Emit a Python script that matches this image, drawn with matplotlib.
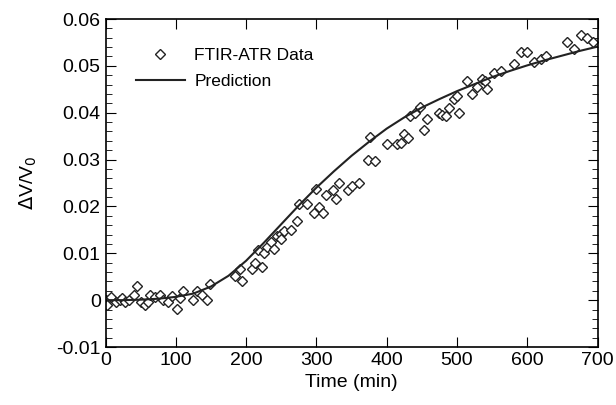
import numpy as np
import matplotlib
matplotlib.use("Agg")
import matplotlib.pyplot as plt
from matplotlib.ticker import MultipleLocator

plt.rcParams['font.family'] = ['Liberation Sans', 'DejaVu Sans']

t_data = [0, 2, 8, 15, 21, 23, 28, 34, 40, 45, 50, 56, 60, 64, 70, 77, 82, 89, 95,
          102, 106, 110, 124, 130, 138, 144, 149, 184, 191, 194, 208, 212, 217, 222,
          226, 230, 236, 240, 244, 249, 250, 254, 264, 273, 276, 287, 296, 299, 304,
          310, 314, 323, 328, 332, 345, 350, 360, 373, 377, 384, 401, 415, 420, 425,
          430, 433, 441, 447, 453, 458, 475, 479, 484, 489, 496, 500, 503, 515, 521,
          529, 535, 540, 543, 553, 563, 581, 591, 600, 609, 619, 627, 656, 666, 676,
          685, 694]
v_data = [0.0, -0.001, 0.0007, -0.0004, 0.0, 0.0005, -0.0004, 0.0, 0.001, 0.003,
          -0.0004, -0.001, -0.0005, 0.001, 0.0007, 0.0012, 0.0, -0.0004, 0.0009,
          -0.0019, 0.0005, 0.0019, 0.0, 0.0019, 0.0011, 0.0, 0.0034, 0.0051, 0.0066,
          0.0041, 0.0066, 0.0079, 0.0107, 0.0071, 0.010, 0.0114, 0.0124, 0.0109,
          0.0136, 0.0141, 0.013, 0.0148, 0.015, 0.0168, 0.0206, 0.0206, 0.0186,
          0.0238, 0.0199, 0.0186, 0.0224, 0.0234, 0.0216, 0.0251, 0.0234, 0.0243,
          0.025, 0.0299, 0.0349, 0.0296, 0.0334, 0.0334, 0.0336, 0.0355, 0.0346,
          0.0393, 0.040, 0.0412, 0.0364, 0.0387, 0.0399, 0.0396, 0.0393, 0.0411,
          0.0429, 0.0436, 0.040, 0.0468, 0.0441, 0.0455, 0.0473, 0.0468, 0.045,
          0.0484, 0.0489, 0.0505, 0.0529, 0.0529, 0.0509, 0.0514, 0.0521, 0.0551,
          0.0537, 0.0566, 0.0559, 0.055]

# model prediction
t_pred = [0, 25, 50, 75, 100, 125, 150, 175, 200, 225, 250, 275, 300, 325, 350,
          375, 400, 425, 450, 475, 500, 525, 550, 575, 600, 625, 650, 675, 700]
v_pred = [0.0, 0.0, 0.0001, 0.0003, 0.0007, 0.0014, 0.0029, 0.0052, 0.0084, 0.0122,
          0.0162, 0.0202, 0.024, 0.0275, 0.0308, 0.0338, 0.0366, 0.039, 0.0411,
          0.0429, 0.0446, 0.0461, 0.0476, 0.0489, 0.0501, 0.0512, 0.0522, 0.0532,
          0.0541]

fig = plt.figure(figsize=(6.16, 4.05), dpi=100)
ax = fig.add_axes([105.5 / 616, 1 - 347 / 405, 492 / 616, 328 / 405])

ax.plot(t_data, v_data, 'D', ms=5.5, mfc='white', mec='#222222', mew=1.0,
        ls='none', label='FTIR-ATR Data')
ax.plot(t_pred, v_pred, '-', color='#222222', lw=1.5, label='Prediction')

ax.set_xlim(0, 700)
ax.set_ylim(-0.01, 0.06)
ax.xaxis.set_major_locator(MultipleLocator(100))
ax.yaxis.set_minor_locator(MultipleLocator(0.002))
ax.set_yticks(np.arange(-0.01, 0.061, 0.01))
ax.set_yticklabels(['-0.01', '0', '0.01', '0.02', '0.03', '0.04', '0.05', '0.06'])
ax.tick_params(which='both', direction='in', top=True, right=True, labelsize=14)
ax.tick_params(which='major', length=7)
ax.tick_params(which='minor', length=4)
for s in ax.spines.values():
    s.set_linewidth(1.2)

ax.set_xlabel('Time (min)', fontsize=14)
ax.set_ylabel(r'$\Delta$V/V$_0$', fontsize=14, labelpad=12)

ax.legend(loc='upper left', bbox_to_anchor=(0.062, 0.912), frameon=False,
          fontsize=12.5, handlelength=2.8, handletextpad=0.55, borderpad=0,
          borderaxespad=0, labelspacing=0.65)

plt.savefig('out.png', dpi=100)
